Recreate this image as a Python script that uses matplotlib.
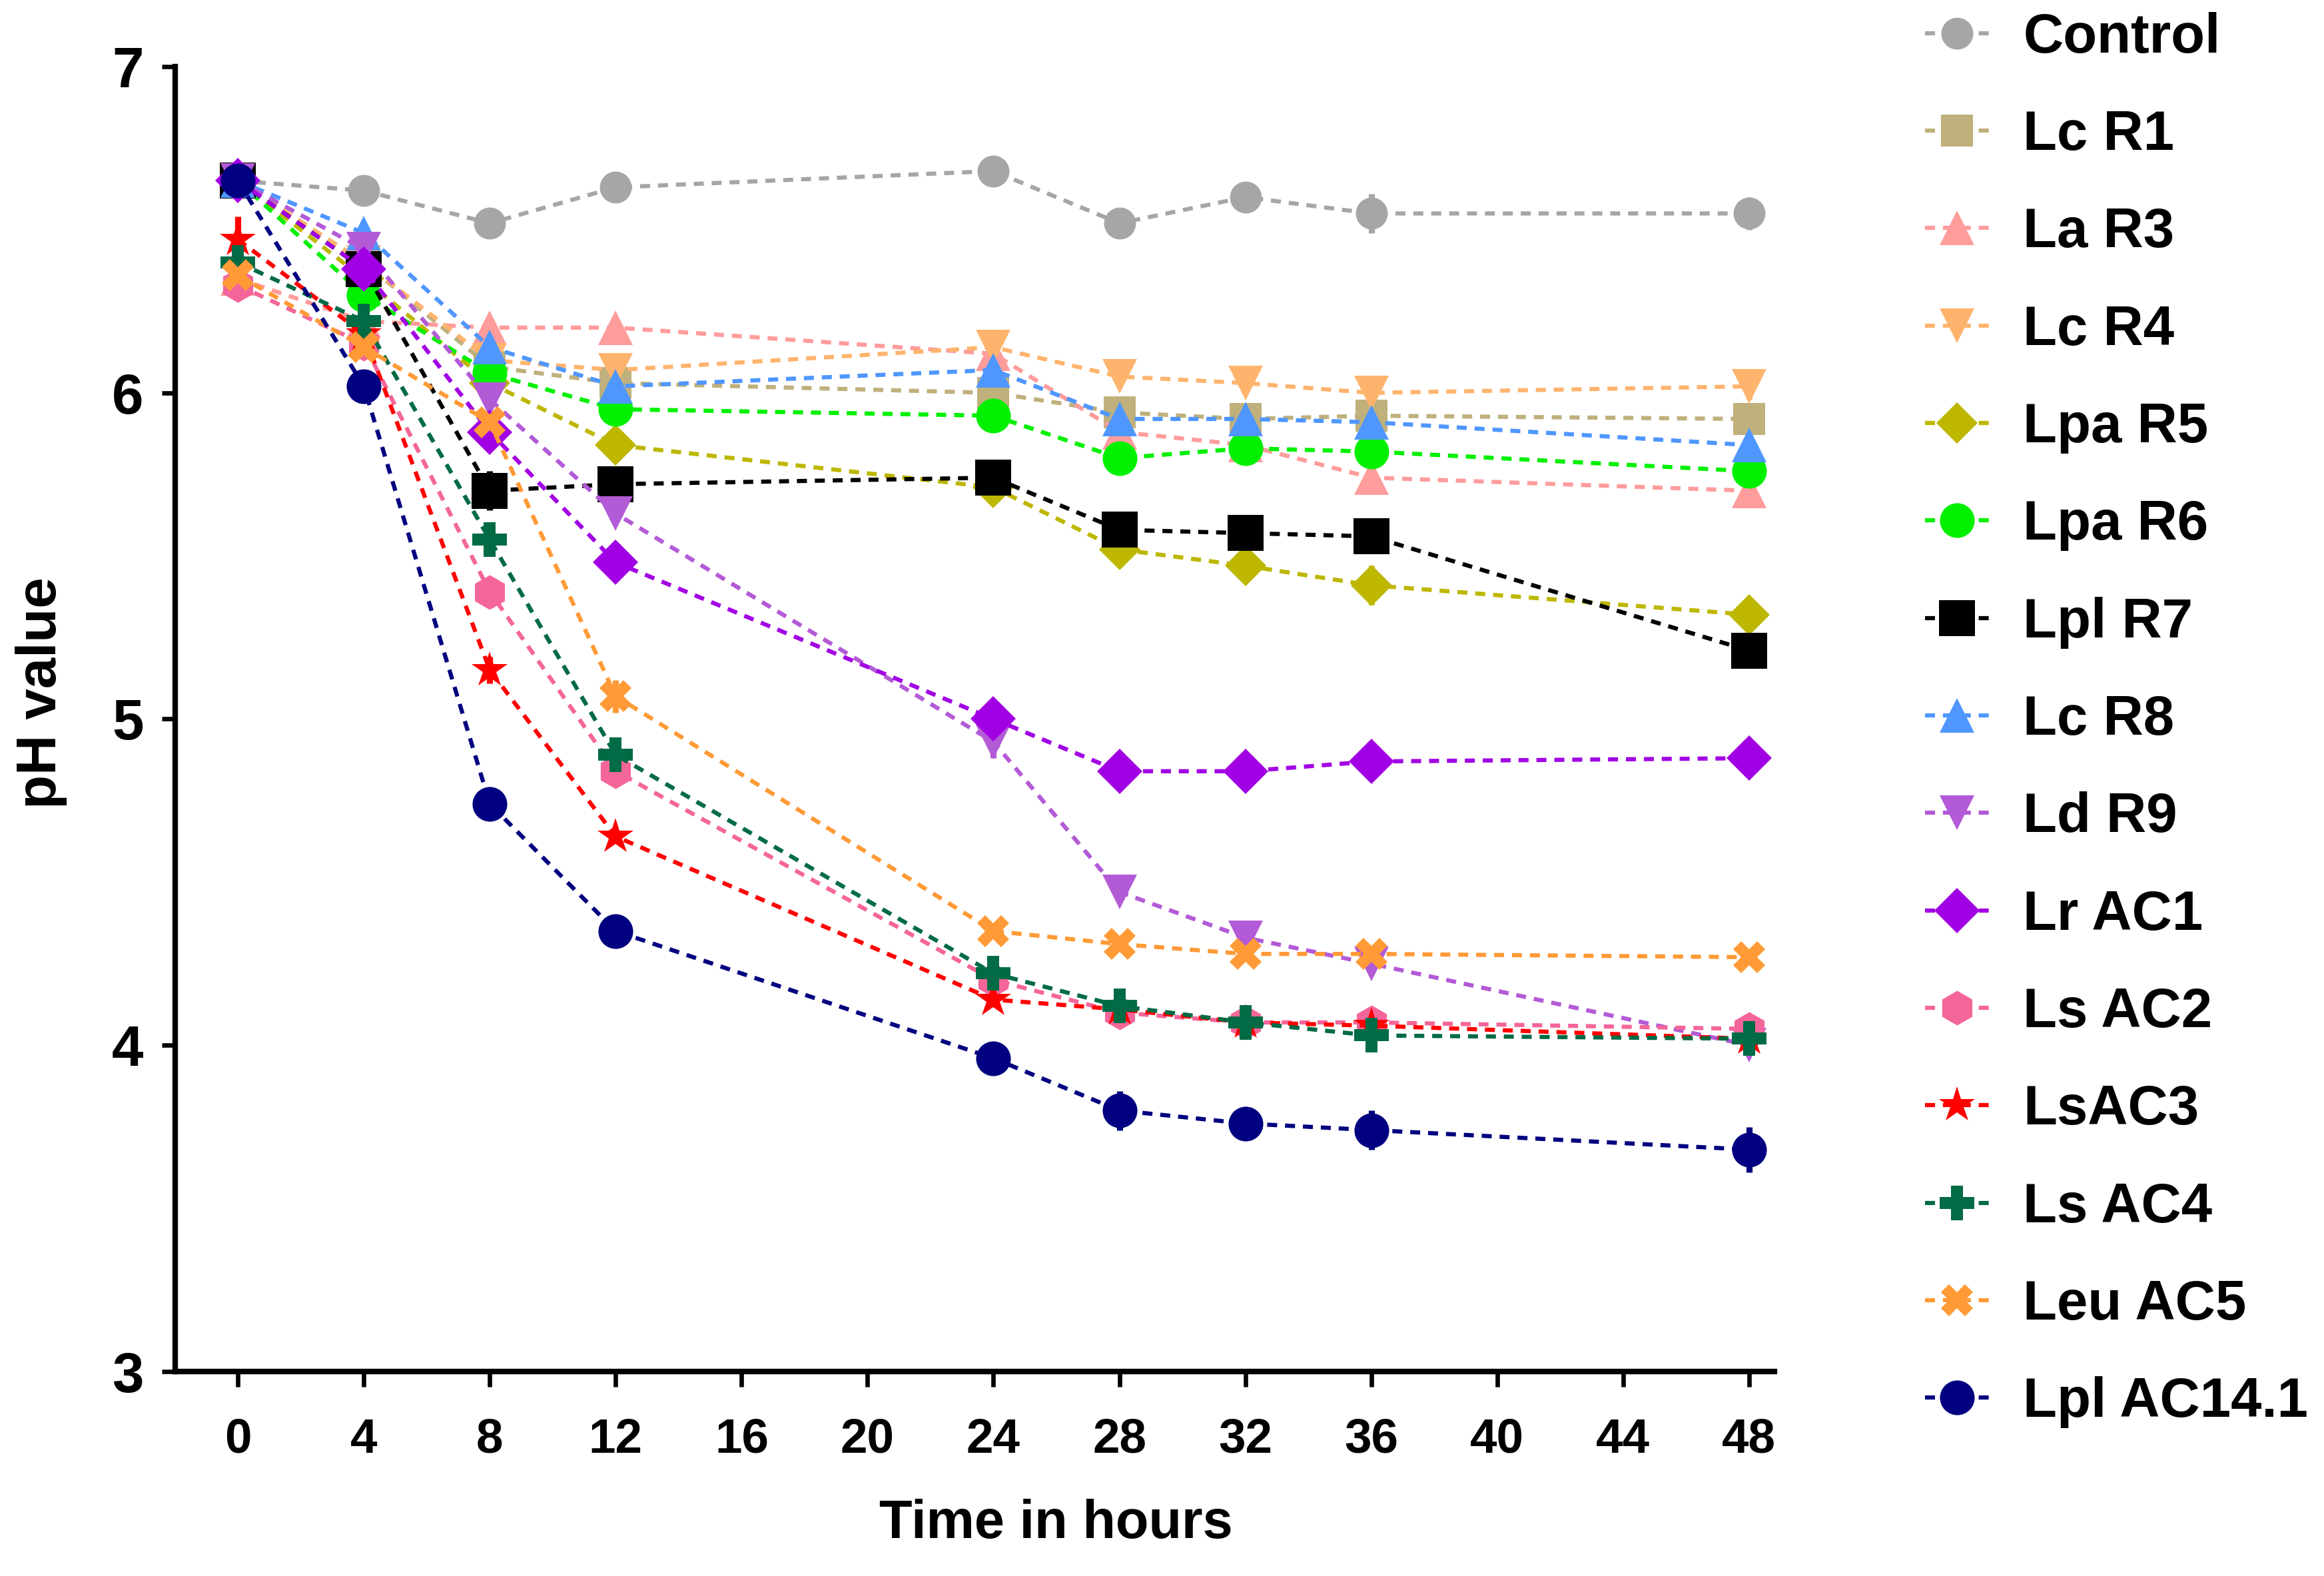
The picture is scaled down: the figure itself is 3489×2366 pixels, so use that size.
import matplotlib
matplotlib.use("Agg")
import matplotlib.pyplot as plt
from matplotlib import font_manager
import numpy as np

# ---------------- data ----------------
hours = [0, 4, 8, 12, 24, 28, 32, 36, 48]
xticks = [0, 4, 8, 12, 16, 20, 24, 28, 32, 36, 40, 44, 48]
yticks = [3, 4, 5, 6, 7]

labels = ["Control", "Lc R1", "La R3", "Lc R4", "Lpa R5", "Lpa R6", "Lpl R7",
          "Lc R8", "Ld R9", "Lr AC1", "Ls AC2", "LsAC3", "Ls AC4", "Leu AC5",
          "Lpl AC14.1"]

control   = [6.65, 6.62, 6.52, 6.63, 6.68, 6.52, 6.60, 6.55, 6.55]
lc_r1     = [6.65, 6.40, 6.08, 6.03, 6.00, 5.94, 5.92, 5.93, 5.92]
la_r3     = [6.35, 6.22, 6.20, 6.20, 6.12, 5.88, 5.84, 5.74, 5.70]
lc_r4     = [6.65, 6.40, 6.10, 6.07, 6.14, 6.05, 6.03, 6.00, 6.02]
lpa_r5    = [6.65, 6.35, 6.03, 5.84, 5.71, 5.52, 5.47, 5.41, 5.32]
lpa_r6    = [6.65, 6.30, 6.06, 5.95, 5.93, 5.80, 5.83, 5.82, 5.76]
lpl_r7    = [6.65, 6.38, 5.70, 5.72, 5.74, 5.58, 5.57, 5.56, 5.21]
lc_r8     = [6.65, 6.49, 6.14, 6.02, 6.07, 5.92, 5.92, 5.91, 5.84]
ld_r9     = [6.65, 6.44, 5.98, 5.63, 4.93, 4.47, 4.33, 4.25, 4.00]
lr_ac1    = [6.65, 6.38, 5.88, 5.48, 5.00, 4.84, 4.84, 4.87, 4.88]
ls_ac2    = [6.33, 6.15, 5.39, 4.84, 4.20, 4.10, 4.07, 4.07, 4.05]
ls_ac3    = [6.47, 6.18, 5.15, 4.64, 4.14, 4.11, 4.07, 4.06, 4.02]
ls_ac4    = [6.40, 6.22, 5.55, 4.89, 4.22, 4.12, 4.07, 4.03, 4.02]
leu_ac5   = [6.36, 6.14, 5.91, 5.07, 4.35, 4.31, 4.28, 4.28, 4.27]
lpl_ac141 = [6.65, 6.02, 4.74, 4.35, 3.96, 3.80, 3.76, 3.74, 3.68]

control_err   = [0.02, 0.01, 0.02, 0.02, 0.04, 0.04, 0.02, 0.06, 0.05]
lc_r1_err     = [0.01, 0.01, 0.01, 0.01, 0.01, 0.03, 0.01, 0.03, 0.04]
la_r3_err     = [0.01, 0.01, 0.02, 0.01, 0.01, 0.02, 0.01, 0.04, 0.03]
lc_r4_err     = [0.01, 0.01, 0.01, 0.02, 0.04, 0.02, 0.01, 0.03, 0.04]
lpa_r5_err    = [0.01, 0.01, 0.01, 0.02, 0.01, 0.02, 0.02, 0.06, 0.02]
lpa_r6_err    = [0.01, 0.01, 0.02, 0.04, 0.04, 0.03, 0.02, 0.03, 0.03]
lpl_r7_err    = [0.01, 0.03, 0.06, 0.04, 0.02, 0.05, 0.03, 0.03, 0.03]
lc_r8_err     = [0.01, 0.02, 0.04, 0.02, 0.03, 0.03, 0.02, 0.02, 0.03]
ld_r9_err     = [0.01, 0.02, 0.02, 0.02, 0.05, 0.02, 0.02, 0.02, 0.02]
lr_ac1_err    = [0.01, 0.02, 0.02, 0.02, 0.04, 0.01, 0.01, 0.01, 0.01]
ls_ac2_err    = [0.02, 0.02, 0.02, 0.02, 0.02, 0.02, 0.03, 0.03, 0.03]
ls_ac3_err    = [0.07, 0.02, 0.04, 0.01, 0.01, 0.01, 0.01, 0.02, 0.01]
ls_ac4_err    = [0.03, 0.02, 0.02, 0.04, 0.05, 0.02, 0.02, 0.02, 0.02]
leu_ac5_err   = [0.02, 0.02, 0.02, 0.05, 0.02, 0.02, 0.02, 0.02, 0.02]
lpl_ac141_err = [0.04, 0.03, 0.04, 0.04, 0.05, 0.06, 0.03, 0.06, 0.07]

series = [control, lc_r1, la_r3, lc_r4, lpa_r5, lpa_r6, lpl_r7, lc_r8,
          ld_r9, lr_ac1, ls_ac2, ls_ac3, ls_ac4, leu_ac5, lpl_ac141]
errors = [control_err, lc_r1_err, la_r3_err, lc_r4_err, lpa_r5_err,
          lpa_r6_err, lpl_r7_err, lc_r8_err, ld_r9_err, lr_ac1_err,
          ls_ac2_err, ls_ac3_err, ls_ac4_err, leu_ac5_err, lpl_ac141_err]

colors = ["#a6a6a8", "#bfb07c", "#ff9c9c", "#ffb46e", "#bdb700", "#00f000",
          "#000000", "#4f97ff", "#b35ad6", "#a200e4", "#f4669a", "#ff0000",
          "#006b44", "#ff9a36", "#000080"]
markers = ["o", "s", "^", "v", "D", "o", "s", "^", "v", "D", "h", "*", "P",
           "X", "o"]
msizes = [11.5, 11.5, 12.5, 12.5, 10.5, 12.5, 13, 12.5, 12.5, 11.5, 12.5, 13.5,
          12.5, 11.5, 12.5]

# ---------------- fonts ----------------
names = {f.name for f in font_manager.fontManager.ttflist}
has_narrow = "Liberation Sans Narrow" in names
main_font = ["Liberation Sans", "DejaVu Sans"]
narrow_font = ["Liberation Sans Narrow", "Liberation Sans", "DejaVu Sans"]
plt.rcParams["font.family"] = main_font
plt.rcParams["font.weight"] = "bold"

# ---------------- figure ----------------
fig = plt.figure(figsize=(3489 / 300, 2366 / 300), dpi=300)
ax = fig.add_axes([0.0753, 0.1298, 0.7634 - 0.0753, 0.9577 - 0.1298])

ls = (0, (2.4, 1.9))
lines = []
for y, e, c, m, s, lab in zip(series, errors, colors, markers, msizes, labels):
    h = ax.errorbar(hours, y, yerr=e, color=c, ecolor=c, elinewidth=2.2,
                    capsize=6, capthick=2.2, marker=m, markersize=s,
                    markeredgewidth=0, linestyle=ls, linewidth=1.5,
                    label=lab, clip_on=False)
    lines.append(h.lines[0])

ax.set_xlim(-2, 48.8)
ax.set_ylim(3, 7)
ax.set_xticks(xticks)
ax.set_yticks(yticks)

for side in ["top", "right"]:
    ax.spines[side].set_visible(False)
for side in ["left", "bottom"]:
    ax.spines[side].set_linewidth(2.0)

ax.tick_params(axis="y", length=4.8, width=1.6, pad=6.5)
ax.tick_params(axis="x", length=5.5, width=1.6, pad=11)

xt_size = 21 if has_narrow else 17.5
for t in ax.get_xticklabels():
    t.set_fontfamily(narrow_font if has_narrow else main_font)
    t.set_fontsize(xt_size)
    t.set_fontweight("bold")
for t in ax.get_yticklabels():
    t.set_fontfamily(main_font)
    t.set_fontsize(20.5)
    t.set_fontweight("bold")

xl_size = 23 if has_narrow else 19.5
ax.set_xlabel("Time in hours", fontsize=xl_size, fontweight="bold",
              fontfamily=narrow_font if has_narrow else main_font,
              va="center")
ax.xaxis.set_label_coords(0.551, -0.117)
ax.set_ylabel("pH value", fontsize=20, fontweight="bold",
              fontfamily=main_font, va="center")
ax.yaxis.set_label_coords(-0.0838, 0.520)

leg = fig.legend(handles=lines, labels=labels, loc="upper left",
                 bbox_to_anchor=(0.8283, 0.9925), frameon=False,
                 borderpad=0, borderaxespad=0, handlelength=1.15,
                 handletextpad=0.62, labelspacing=0.82,
                 prop={"family": main_font, "weight": "bold", "size": 20})

fig.savefig("out.png", dpi=300)
